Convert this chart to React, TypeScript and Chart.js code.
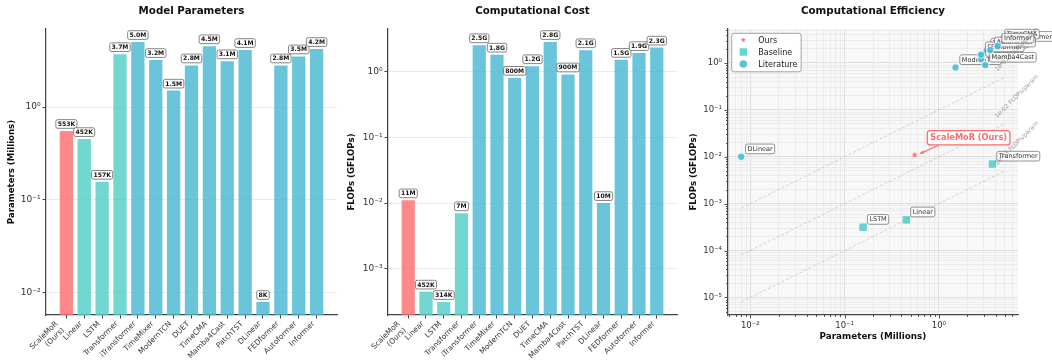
import React, { useEffect, useRef } from 'react';
import { Chart, registerables } from 'chart.js';

Chart.register(...registerables);

const W = 1052;
const H = 364;
const FONT = "'DejaVu Sans', 'Liberation Sans', sans-serif";
Chart.defaults.font.family = FONT;
Chart.defaults.color = '#333';

// ---------------- data ----------------
const models = [
  'ScaleMoR\n(Ours)', 'Linear', 'LSTM', 'Transformer', 'iTransformer', 'TimeMixer', 'ModernTCN',
  'DUET', 'TimeCMA', 'Mamba4Cast', 'PatchTST', 'DLinear', 'FEDformer', 'Autoformer', 'Informer',
];
const groups = [
  'ours', 'baseline', 'baseline', 'baseline', 'literature', 'literature', 'literature',
  'literature', 'literature', 'literature', 'literature', 'literature', 'literature', 'literature', 'literature',
];
const paramsM = [0.553, 0.452, 0.157, 3.7, 5.0, 3.2, 1.5, 2.8, 4.5, 3.1, 4.1, 0.008, 2.8, 3.5, 4.2];
const flopsG = [0.011, 0.000452, 0.000314, 0.007, 2.5, 1.8, 0.8, 1.2, 2.8, 0.9, 2.1, 0.010, 1.5, 1.9, 2.3];
const isoRatios = [1e-1, 1e-2, 1e-3];
const isoLabels = ['1e-01 FLOPs/param', '1e-02 FLOPs/param', '1e-03 FLOPs/param'];
const legendItems = ['Ours', 'Baseline', 'Literature'];
const legendGroups = ['ours', 'baseline', 'literature'];
const panelTitles = ['Model Parameters', 'Computational Cost', 'Computational Efficiency'];
const yTitles = ['Parameters (Millions)', 'FLOPs (GFLOPs)', 'FLOPs (GFLOPs)'];
const xTitleEff = 'Parameters (Millions)';
const oursLabel = 'ScaleMoR (Ours)';

// ---------------- style ----------------
const COLORS: Record<string, string> = {
  ours: 'rgba(255,107,107,0.8)',
  baseline: 'rgba(78,205,196,0.8)',
  literature: 'rgba(69,183,209,0.8)',
};
const SCATTER_COLORS: Record<string, string> = {
  ours: '#ff6b6b',
  baseline: 'rgba(78,205,196,0.85)',
  literature: 'rgba(69,183,209,0.88)',
};
const AXIS = '#444';
const AREAS = [
  { left: 46, right: 337, top: 29, bottom: 315, yTitleX: 11.5 },
  { left: 388, right: 677, top: 29, bottom: 315, yTitleX: 352 },
  { left: 728, right: 1018, top: 29, bottom: 315, yTitleX: 694 },
];
const YW = 40;

// ---------------- helpers ----------------
function logRange(vals: number[]): [number, number] {
  const lo = Math.log10(Math.min(...vals));
  const hi = Math.log10(Math.max(...vals));
  const m = (hi - lo) * 0.05;
  return [Math.pow(10, lo - m), Math.pow(10, hi + m)];
}
function isMajor(v: number) {
  const l = Math.log10(v);
  return Math.abs(l - Math.round(l)) < 1e-6;
}
function logTicks(min: number, max: number, minor: boolean) {
  const out: { value: number; major: boolean }[] = [];
  const e0 = Math.floor(Math.log10(min));
  const e1 = Math.ceil(Math.log10(max));
  for (let e = e0; e <= e1; e++) {
    const ks = minor ? [1, 2, 3, 4, 5, 6, 7, 8, 9] : [1];
    for (const k of ks) {
      const v = k * Math.pow(10, e);
      if (v >= min * (1 - 1e-9) && v <= max * (1 + 1e-9)) out.push({ value: v, major: k === 1 });
    }
  }
  return out;
}
const SUP: Record<string, string> = {
  '-': '⁻', '0': '⁰', '1': '¹', '2': '²', '3': '³', '4': '⁴', '5': '⁵', '6': '⁶', '7': '⁷', '8': '⁸', '9': '⁹',
};
function pow10Label(v: number) {
  if (!isMajor(v)) return '';
  const e = Math.round(Math.log10(v));
  return '10' + String(e).split('').map((c) => SUP[c]).join('');
}
const fmtParams = (v: number) => (v >= 1 ? v.toFixed(1) + 'M' : Math.round(v * 1000) + 'K');
const fmtFlops = (v: number) =>
  v >= 1 ? v.toFixed(1) + 'G' : v >= 1e-3 ? Math.round(v * 1000) + 'M' : Math.round(v * 1e6) + 'K';

function roundRect(ctx: CanvasRenderingContext2D, x: number, y: number, w: number, h: number, r: number) {
  ctx.beginPath();
  ctx.moveTo(x + r, y);
  ctx.arcTo(x + w, y, x + w, y + h, r);
  ctx.arcTo(x + w, y + h, x, y + h, r);
  ctx.arcTo(x, y + h, x, y, r);
  ctx.arcTo(x, y, x + w, y, r);
  ctx.closePath();
}

type BoxOpts = {
  font: string; size: number; align: 'center' | 'left'; padX: number; padY: number;
  stroke: string; lw: number; fill: string; color: string; r: number;
};
function drawBoxText(ctx: CanvasRenderingContext2D, text: string, x: number, yBottom: number, o: BoxOpts) {
  ctx.save();
  ctx.font = o.font;
  const tw = ctx.measureText(text).width;
  const bw = tw + 2 * o.padX;
  const bh = o.size + 2 * o.padY;
  const bx = o.align === 'center' ? x - bw / 2 : x;
  const by = yBottom - bh;
  roundRect(ctx, bx, by, bw, bh, o.r);
  ctx.fillStyle = o.fill;
  ctx.fill();
  ctx.lineWidth = o.lw;
  ctx.strokeStyle = o.stroke;
  ctx.stroke();
  ctx.fillStyle = o.color;
  ctx.textAlign = 'left';
  ctx.textBaseline = 'middle';
  ctx.fillText(text, bx + o.padX, by + bh / 2 + 0.4);
  ctx.restore();
  return { bx, by, bw, bh };
}

function makeStar(size: number, color: string) {
  const c = document.createElement('canvas');
  c.width = size;
  c.height = size;
  const g = c.getContext('2d')!;
  const R = size / 2 - 0.2;
  const r = R * 0.42;
  g.beginPath();
  for (let i = 0; i < 10; i++) {
    const a = -Math.PI / 2 + (i * Math.PI) / 5;
    const rr = i % 2 === 0 ? R : r;
    g.lineTo(size / 2 + rr * Math.cos(a), size / 2 + rr * Math.sin(a));
  }
  g.closePath();
  g.fillStyle = color;
  g.fill();
  return c;
}

function textPlugin(k: number, xTitle?: string) {
  const area = AREAS[k];
  return {
    id: 'panelText' + k,
    afterDraw(chart: any) {
      const { ctx, chartArea: ca } = chart;
      ctx.save();
      ctx.fillStyle = '#111';
      ctx.textAlign = 'center';
      ctx.textBaseline = 'middle';
      ctx.font = `bold 10.3px ${FONT}`;
      ctx.fillText(panelTitles[k], (ca.left + ca.right) / 2, 11);
      ctx.font = `bold 8.6px ${FONT}`;
      ctx.save();
      ctx.translate(area.yTitleX, (ca.top + ca.bottom) / 2);
      ctx.rotate(-Math.PI / 2);
      ctx.fillText(yTitles[k], 0, 0);
      ctx.restore();
      if (xTitle) {
        ctx.font = `bold 8.8px ${FONT}`;
        ctx.fillText(xTitle, (ca.left + ca.right) / 2, 337);
      }
      ctx.restore();
    },
  };
}

function makeBarChart(canvas: HTMLCanvasElement, k: number) {
  const values = k === 0 ? paramsM : flopsG;
  const fmt = k === 0 ? fmtParams : fmtFlops;
  const area = AREAS[k];
  const [ymin, ymax] = logRange(values);
  const n = values.length;
  const span = n - 1 + 0.8;
  const xmin = -0.4 - span * 0.05;
  const xmax = n - 1 + 0.4 + span * 0.05;
  const colors = groups.map((g) => COLORS[g]);
  const labelPlugin = {
    id: 'barLabels' + k,
    afterDatasetsDraw(chart: any) {
      const meta = chart.getDatasetMeta(0);
      meta.data.forEach((el: any, i: number) => {
        drawBoxText(chart.ctx, fmt(values[i]), el.x, el.y - 2.6, {
          font: `bold 6.1px ${FONT}`, size: 6.1, align: 'center', padX: 1.8, padY: 1.3,
          stroke: '#666', lw: 0.8, fill: 'rgba(255,255,255,0.95)', color: '#111', r: 1.8,
        });
      });
    },
    afterDraw(chart: any) {
      // rotated category labels, anchored like right-aligned 45° text
      const ctx = chart.ctx;
      const xs = chart.scales.x;
      const size = 7.5;
      const lh = size * 1.2;
      ctx.save();
      ctx.font = `${size}px ${FONT}`;
      ctx.fillStyle = '#333';
      ctx.textAlign = 'right';
      ctx.textBaseline = 'middle';
      values.forEach((_, i) => {
        const lines = models[i].split('\n');
        const tx = xs.getPixelForValue(i);
        const h = lines.length * lh;
        ctx.save();
        ctx.translate(tx - Math.SQRT1_2 * h, chart.chartArea.bottom + 4.5);
        ctx.rotate(-Math.PI / 4);
        lines.forEach((ln, j) => ctx.fillText(ln, 0, j * lh + lh / 2));
        ctx.restore();
      });
      ctx.restore();
    },
  };
  return new Chart(canvas, {
    type: 'bar',
    data: {
      datasets: [
        {
          data: values.map((v, i) => ({ x: i, y: v })),
          backgroundColor: colors,
          borderWidth: 0,
          barPercentage: 0.745,
          categoryPercentage: 1,
        } as any,
      ],
    },
    options: {
      responsive: false,
      animation: false,
      events: [],
      layout: { padding: { left: area.left - YW, right: W - area.right, top: area.top, bottom: 0 } },
      plugins: { legend: { display: false }, tooltip: { enabled: false }, title: { display: false } },
      scales: {
        x: {
          type: 'linear',
          min: xmin,
          max: xmax,
          bounds: 'data',
          offset: false,
          afterFit: (s: any) => { s.height = H - area.bottom; },
          afterBuildTicks: (s: any) => { s.ticks = values.map((_, i) => ({ value: i })); },
          grid: { display: true, drawOnChartArea: false, drawTicks: true, tickLength: 3.5, tickColor: AXIS, tickWidth: 1, offset: false },
          border: { display: true, color: AXIS, width: 1.25 },
          ticks: { display: false, autoSkip: false, maxRotation: 0, minRotation: 0 },
        } as any,
        y: {
          type: 'logarithmic',
          min: ymin,
          max: ymax,
          bounds: 'data',
          afterFit: (s: any) => { s.width = YW; },
          afterBuildTicks: (s: any) => { s.ticks = logTicks(ymin, ymax, false); },
          grid: { color: '#e6e6e6', lineWidth: 0.8, tickColor: AXIS, tickLength: 3.5, tickWidth: 1 },
          border: { display: true, color: AXIS, width: 1.25 },
          ticks: { color: '#333', font: { size: 9 }, padding: 2, callback: (v: any) => pow10Label(Number(v)) },
        } as any,
      },
    },
    plugins: [textPlugin(k), labelPlugin],
  });
}

function makeScatter(canvas: HTMLCanvasElement) {
  const area = AREAS[2];
  const pMin = Math.min(...paramsM);
  const pMax = Math.max(...paramsM);
  const isoData = isoRatios.map((r) => [{ x: pMin, y: r * pMin }, { x: pMax, y: r * pMax }]);
  const [xmin, xmax] = logRange(paramsM);
  const [ymin, ymax] = logRange([...flopsG, ...isoData.flat().map((p) => p.y)]);
  const star = makeStar(7, SCATTER_COLORS.ours);
  const legendStar = makeStar(6, SCATTER_COLORS.ours);

  const datasets: any[] = [];
  isoData.forEach((d, j) => {
    datasets.push({
      type: 'line', data: d, borderColor: 'rgba(160,160,160,0.55)', borderWidth: 0.8,
      borderDash: [3, 2], pointRadius: 0, fill: false, showLine: true, order: 1000,
      tag: { kind: 'iso', j },
    });
  });
  models.forEach((m, i) => {
    const g = groups[i];
    datasets.push({
      type: 'scatter',
      data: [{ x: paramsM[i], y: flopsG[i] }],
      pointStyle: g === 'ours' ? star : g === 'baseline' ? 'rect' : 'circle',
      pointRadius: g === 'ours' ? 3.5 : g === 'baseline' ? 5.3 : 3.7,
      backgroundColor: SCATTER_COLORS[g],
      borderColor: g === 'ours' ? SCATTER_COLORS[g] : '#ffffff',
      borderWidth: g === 'literature' ? 0.8 : 0,
      order: 100 - i,
      tag: { kind: g === 'ours' ? 'ours' : 'point', text: m.replace('\n', ' ') },
    });
  });

  const lblOpts: BoxOpts = {
    font: `6.5px ${FONT}`, size: 6.5, align: 'left', padX: 2, padY: 1.6,
    stroke: '#777', lw: 0.8, fill: 'rgba(255,255,255,0.82)', color: '#333', r: 2,
  };

  const effPlugin = {
    id: 'eff',
    beforeDraw(chart: any) {
      const { ctx, chartArea: ca } = chart;
      ctx.save();
      ctx.fillStyle = '#f8f8f8';
      ctx.fillRect(ca.left, ca.top, ca.right - ca.left, ca.bottom - ca.top);
      ctx.restore();
    },
    afterDatasetDraw(chart: any, args: any) {
      const ds = chart.data.datasets[args.index];
      const tag = ds.tag;
      if (!tag || tag.kind !== 'point') return;
      const el = args.meta.data[0];
      drawBoxText(chart.ctx, tag.text, el.x + 4.3, el.y - 3, lblOpts);
    },
    afterDatasetsDraw(chart: any) {
      const ctx = chart.ctx;
      const xs = chart.scales.x;
      const ys = chart.scales.y;
      // iso-efficiency labels (drawn over point labels)
      isoRatios.forEach((r, j) => {
        const xv = pMax * 0.83;
        const sx = xs.getPixelForValue(xv);
        const sy = ys.getPixelForValue(r * xv);
        ctx.save();
        ctx.translate(sx, sy - 9.5);
        ctx.rotate(-Math.PI / 4);
        ctx.font = `6px ${FONT}`;
        ctx.fillStyle = 'rgba(120,120,120,0.75)';
        ctx.textAlign = 'left';
        ctx.textBaseline = 'alphabetic';
        ctx.fillText(isoLabels[j], 0, 0);
        ctx.restore();
      });
      // highlighted annotation for our model
      const idx = chart.data.datasets.findIndex((d: any) => d.tag && d.tag.kind === 'ours');
      const el = chart.getDatasetMeta(idx).data[0];
      const px = el.x;
      const py = el.y;
      ctx.save();
      ctx.font = `bold 8.2px ${FONT}`;
      const tw = ctx.measureText(oursLabel).width;
      ctx.restore();
      const bw = tw + 6;
      const bh = 14.3;
      const bx = px + 54 - bw / 2;
      const by = py - 17 - bh / 2;
      const x0 = bx + 12, y0 = by + bh;
      const x1 = px + 5.5, y1 = py - 1.2;
      ctx.save();
      ctx.strokeStyle = '#ff6b6b';
      ctx.fillStyle = '#ff6b6b';
      ctx.lineWidth = 1.2;
      ctx.beginPath();
      ctx.moveTo(x0, y0);
      ctx.lineTo(x1, y1);
      ctx.stroke();
      const ang = Math.atan2(y1 - y0, x1 - x0);
      ctx.beginPath();
      ctx.moveTo(x1, y1);
      ctx.lineTo(x1 - 4 * Math.cos(ang - 0.45), y1 - 4 * Math.sin(ang - 0.45));
      ctx.lineTo(x1 - 4 * Math.cos(ang + 0.45), y1 - 4 * Math.sin(ang + 0.45));
      ctx.closePath();
      ctx.fill();
      ctx.restore();
      drawBoxText(ctx, oursLabel, bx, by + bh, {
        font: `bold 8.2px ${FONT}`, size: 8.2, align: 'left', padX: 3, padY: 3.05,
        stroke: '#ff6b6b', lw: 1.3, fill: 'rgba(255,255,255,0.95)', color: '#ff6b6b', r: 3,
      });
    },
    afterDraw(chart: any) {
      const { ctx, chartArea: ca } = chart;
      const xs = chart.scales.x;
      const ys = chart.scales.y;
      ctx.save();
      ctx.strokeStyle = AXIS;
      ctx.lineWidth = 0.9;
      xs.ticks.forEach((t: any) => {
        const x = Math.round(xs.getPixelForValue(t.value)) + 0.5;
        const len = isMajor(t.value) ? 3.5 : 2;
        ctx.beginPath();
        ctx.moveTo(x, ca.bottom);
        ctx.lineTo(x, ca.bottom + len);
        ctx.stroke();
      });
      ys.ticks.forEach((t: any) => {
        const y = Math.round(ys.getPixelForValue(t.value)) + 0.5;
        const len = isMajor(t.value) ? 3.5 : 2;
        ctx.beginPath();
        ctx.moveTo(ca.left, y);
        ctx.lineTo(ca.left - len, y);
        ctx.stroke();
      });
      // legend
      const lx = ca.left + 3.7;
      const ly = ca.top + 4.3;
      roundRect(ctx, lx, ly, 69.5, 38.5, 2.5);
      ctx.fillStyle = 'rgba(255,255,255,0.9)';
      ctx.fill();
      ctx.strokeStyle = '#999';
      ctx.lineWidth = 0.9;
      ctx.stroke();
      legendItems.forEach((name, i) => {
        const cy = ca.top + 11 + i * 12;
        const mx = ca.left + 15.3;
        const g = legendGroups[i];
        if (g === 'ours') {
          ctx.drawImage(legendStar, mx - 3, cy - 3);
        } else if (g === 'baseline') {
          ctx.fillStyle = SCATTER_COLORS[g];
          ctx.fillRect(mx - 3.7, cy - 3.7, 7.4, 7.4);
        } else {
          ctx.beginPath();
          ctx.arc(mx, cy, 3.8, 0, Math.PI * 2);
          ctx.fillStyle = SCATTER_COLORS[g];
          ctx.fill();
        }
        ctx.fillStyle = '#222';
        ctx.font = `8px ${FONT}`;
        ctx.textAlign = 'left';
        ctx.textBaseline = 'middle';
        ctx.fillText(name, ca.left + 30.3, cy + 0.5);
      });
      ctx.restore();
    },
  };

  const gridColor = (c: any) => (c.tick && isMajor(c.tick.value) ? '#d6d6d6' : '#e6e6e6');

  return new Chart(canvas, {
    type: 'scatter',
    data: { datasets },
    options: {
      responsive: false,
      animation: false,
      events: [],
      layout: { padding: { left: area.left - YW, right: W - area.right, top: area.top, bottom: 0 } },
      plugins: { legend: { display: false }, tooltip: { enabled: false }, title: { display: false } },
      scales: {
        x: {
          type: 'logarithmic',
          min: xmin,
          max: xmax,
          bounds: 'data',
          afterFit: (s: any) => { s.height = H - area.bottom; },
          afterBuildTicks: (s: any) => { s.ticks = logTicks(xmin, xmax, true); },
          grid: { color: gridColor, lineWidth: 0.7, drawTicks: false },
          border: { display: true, color: AXIS, width: 1.25 },
          ticks: { autoSkip: false, maxRotation: 0, minRotation: 0, padding: 6, color: '#333', font: { size: 8.5 }, callback: (v: any) => pow10Label(Number(v)) },
        } as any,
        y: {
          type: 'logarithmic',
          min: ymin,
          max: ymax,
          bounds: 'data',
          afterFit: (s: any) => { s.width = YW; },
          afterBuildTicks: (s: any) => { s.ticks = logTicks(ymin, ymax, true); },
          grid: { color: gridColor, lineWidth: 0.7, drawTicks: false },
          border: { display: true, color: AXIS, width: 1.25 },
          ticks: { autoSkip: false, padding: 6, color: '#333', font: { size: 8.5 }, callback: (v: any) => pow10Label(Number(v)) },
        } as any,
      },
    },
    plugins: [textPlugin(2, xTitleEff), effPlugin],
  });
}

export default function App() {
  const r1 = useRef<HTMLCanvasElement>(null);
  const r2 = useRef<HTMLCanvasElement>(null);
  const r3 = useRef<HTMLCanvasElement>(null);
  useEffect(() => {
    const charts = [makeBarChart(r1.current!, 0), makeBarChart(r2.current!, 1), makeScatter(r3.current!)];
    return () => charts.forEach((c) => c.destroy());
  }, []);
  const cs: React.CSSProperties = { position: 'absolute', left: 0, top: 0, width: W, height: H };
  return (
    <div style={{ position: 'fixed', left: 0, top: 0, width: W, height: H, background: '#fff' }}>
      <canvas ref={r1} width={W} height={H} style={cs} />
      <canvas ref={r2} width={W} height={H} style={cs} />
      <canvas ref={r3} width={W} height={H} style={cs} />
    </div>
  );
}
